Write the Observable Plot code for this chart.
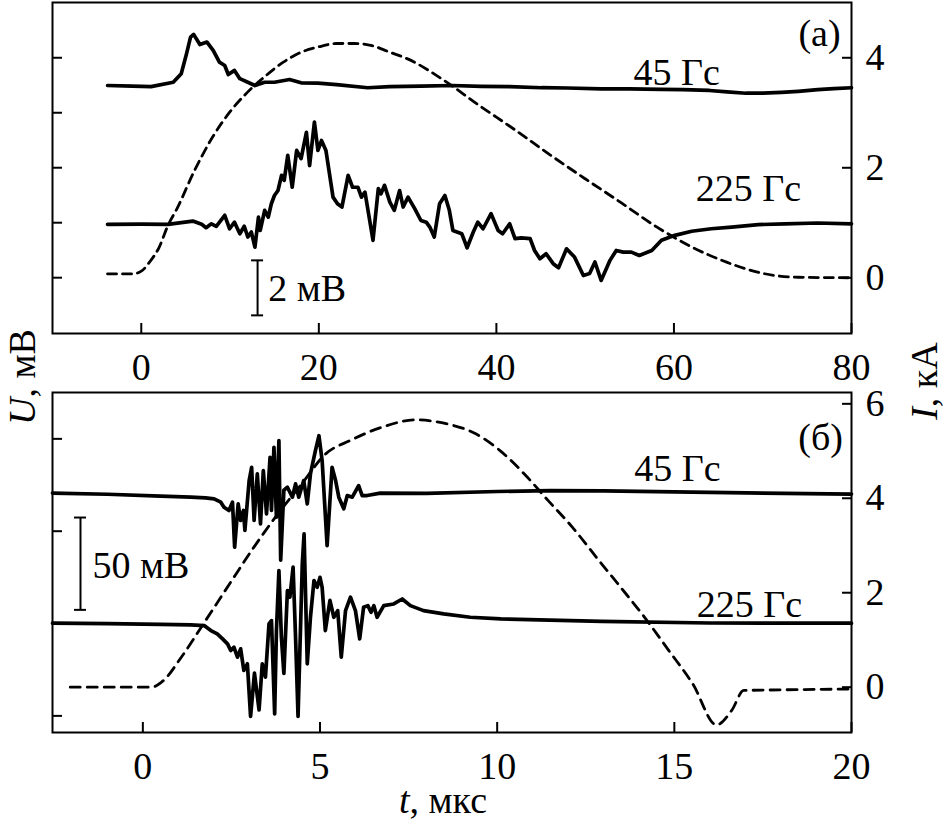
<!DOCTYPE html>
<html><head><meta charset="utf-8">
<script src="https://cdn.jsdelivr.net/npm/d3@7"></script>
<script src="https://cdn.jsdelivr.net/npm/@observablehq/plot@0.6"></script>
<style>
body{margin:0;background:#fff;}
#root{position:relative;width:945px;height:824px;background:#fff;font-family:"Liberation Serif","Times New Roman",serif;color:#000;overflow:hidden;}
#root svg{position:absolute;left:0;}
.lab{position:absolute;font-size:38px;white-space:nowrap;line-height:1;}
</style></head><body><div id="root"></div>
<script>
// ---------- panel (а): t in µs, U in mV (arbitrary offset), I in kA ----------
const xTicksA = [0, 20, 40, 60, 80];
const iTicksA = [0, 2, 4];
const uTicksA = [0, 2, 4, 6, 8];
const u45a = [[-3.8,6.99],[-1,6.97],[1.1,6.95],[3.6,7.11],[4.5,7.42],[5.1,8.15],[5.55,8.75],[5.9,8.85],[6.6,8.48],[7.4,8.57],[8.1,8.27],[8.8,7.84],[9.4,7.72],[9.8,7.39],[10.5,7.54],[11.1,7.24],[12.0,7.11],[12.8,6.99],[13.9,7.11],[15.0,7.11],[16.7,7.21],[18.0,7.09],[19.9,7.08],[22,7.02],[25.5,6.91],[28,6.95],[31.5,6.97],[35,6.99],[38.3,6.96],[41.5,6.95],[45.1,6.91],[48,6.9],[51.8,6.87],[55,6.87],[58.6,6.85],[61,6.84],[64.0,6.81],[66,6.76],[68.1,6.71],[70,6.71],[72.1,6.74],[74,6.78],[76.2,6.84],[78,6.88],[80,6.91]];
const u225a = [[-3.8,1.94],[0,1.95],[3.0,1.94],[5.8,2.06],[6.8,1.94],[7.3,1.82],[7.9,1.96],[8.45,1.87],[9.4,2.27],[9.95,1.78],[10.5,2.02],[11.1,1.6],[11.6,1.87],[12.0,1.48],[12.4,1.66],[12.8,1.11],[13.2,2.2],[13.4,1.72],[13.9,2.45],[14.3,2.2],[14.65,2.69],[15.0,2.99],[15.4,3.17],[15.8,3.72],[16.1,3.54],[16.5,4.45],[17.0,3.29],[17.5,4.63],[18.0,4.33],[18.6,5.29],[18.96,4.08],[19.5,5.66],[19.9,4.63],[20.3,4.99],[20.8,4.63],[21.6,2.93],[22.1,2.69],[22.6,2.57],[23.3,3.72],[23.8,3.29],[24.4,3.29],[24.8,2.93],[25.2,3.11],[26.1,1.36],[26.7,3.24],[27.0,3.05],[27.4,3.36],[28.0,2.75],[28.5,2.45],[29.1,3.17],[29.5,2.57],[30.05,2.93],[30.8,2.51],[31.5,2.08],[32.1,2.02],[32.5,1.84],[33.0,1.48],[33.6,2.69],[34.2,2.99],[34.7,2.45],[35.1,1.72],[36.1,1.6],[36.7,1.09],[37.4,1.66],[37.9,2.02],[38.5,1.78],[39.4,2.33],[40.2,1.72],[40.7,1.6],[41.5,1.96],[42.1,1.42],[42.8,1.45],[43.8,1.42],[44.3,0.99],[44.9,0.69],[45.6,0.87],[46.4,0.51],[47.0,0.36],[47.9,1.05],[48.8,0.75],[49.8,0.08],[50.5,0.15],[51.1,0.57],[51.8,-0.1],[52.8,0.63],[53.5,0.99],[54.3,0.93],[55.2,0.93],[56.1,0.81],[57.5,0.99],[58.6,1.36],[60.1,1.54],[62.0,1.69],[64.2,1.78],[66.5,1.84],[69.5,1.93],[72.5,1.96],[76.2,1.99],[80,1.96]];
const curA = [[-3.8,0.07],[-1,0.07],[0,0.12],[1,0.3],[2,0.55],[3,0.95],[4,1.25],[6,1.95],[8,2.55],[10,3.02],[12,3.38],[14,3.67],[16,3.92],[18,4.1],[20,4.2],[22,4.26],[24,4.26],[26,4.22],[28,4.1],[30,3.98],[34,3.6],[38,3.14],[42,2.7],[46,2.24],[50,1.8],[54,1.37],[58,0.93],[62,0.56],[66,0.28],[70,0.08],[74,0.01],[80,0.0]];
const textsA = [
  {t:76.4, u:8.88, s:"(а)", a:"middle"},
  {t:60.3, u:7.47, s:"45 Гс", a:"middle"},
  {t:68.4, u:3.25, s:"225 Гс", a:"middle"},
  {t:14.3, u:-0.39, s:"2 мВ", a:"start"}
];
const barA = {t:13.1, u0:-1.37, u1:0.63};

// ---------- panel (б) ----------
const xTicksB = [0, 5, 10, 15, 20];
const iTicksB = [0, 2, 4, 6];
const uTicksB = [0, 50, 100, 150];
const u45b = [[-2.55,120.6],[-1,120],[0.5,119],[1.35,118.4],[1.77,118],[2.01,117.5],[2.2,115.7],[2.29,113],[2.43,111.2],[2.53,115.7],[2.59,91.3],[2.69,114.8],[2.76,105.8],[2.84,111.2],[2.88,100.4],[3.0,127.4],[3.07,134.6],[3.14,105.8],[3.23,131],[3.32,104],[3.4,132.8],[3.49,109.4],[3.59,140],[3.63,111.2],[3.7,145.4],[3.77,107.6],[3.84,149],[3.89,84.3],[3.98,122.2],[4.08,123.8],[4.22,118.4],[4.31,125.6],[4.4,118.4],[4.54,127.4],[4.64,114.8],[4.73,131],[4.87,143.6],[4.97,151.7],[5.06,138.2],[5.2,92.2],[5.34,134.6],[5.44,127.4],[5.53,118.4],[5.67,112.1],[5.77,119.3],[5.91,118.4],[6.09,124.7],[6.19,119.3],[6.33,119.3],[6.7,120.6],[8,120.5],[10,121.5],[11.5,122],[13,121.8],[16,121],[20,120.1]];
const u225b = [[-2.55,50.2],[-1,50],[0.5,49.5],[1.35,49.3],[1.73,48.9],[1.92,46.2],[2.1,44.4],[2.25,41.7],[2.39,39],[2.48,35.4],[2.57,37.2],[2.67,31.8],[2.76,36.3],[2.85,24.6],[2.95,28.2],[3.04,-0.3],[3.15,23.1],[3.28,3.2],[3.37,28.2],[3.46,21],[3.56,49.8],[3.63,51.6],[3.72,1.1],[3.77,46.2],[3.84,78.7],[3.91,42.6],[3.98,23],[4.08,67.9],[4.15,64.3],[4.24,80.5],[4.31,42.6],[4.38,-0.3],[4.5,82.3],[4.55,98.6],[4.64,28.2],[4.73,53.4],[4.83,73.3],[4.92,69.6],[5.0,75],[5.06,69.6],[5.15,46.2],[5.28,62.5],[5.39,53.4],[5.5,57],[5.6,31.8],[5.72,57],[5.86,64.3],[6.0,57],[6.12,41.7],[6.23,58.8],[6.35,59.7],[6.44,56.1],[6.52,59.7],[6.61,53.4],[6.8,59.7],[7.08,60.6],[7.32,63.3],[7.55,59.7],[7.92,57],[8.49,55.2],[9.24,53.4],[10.1,52.5],[12.96,51.2],[16,50.3],[20,50.2]];
const curB = [[-2.05,0],[0.24,0],[0.58,0.14],[1.09,0.64],[1.77,1.41],[2.45,2.19],[3.13,2.96],[3.81,3.67],[4.48,4.3],[5.16,4.94],[5.84,5.22],[6.69,5.49],[7.71,5.66],[8.56,5.58],[9.41,5.36],[10.08,5.01],[10.76,4.52],[11.44,3.95],[12.12,3.39],[12.8,2.75],[13.48,2.12],[14.16,1.48],[14.84,0.78],[15.52,0.07],[16.19,-0.8],[16.62,-0.49],[16.96,-0.07],[17.7,-0.06],[20,-0.04]];
const textsB = [
  {t:19.13, u:150.7, s:"(б)", a:"middle"},
  {t:15.09, u:133.9, s:"45 Гс", a:"middle"},
  {t:17.12, u:60.3, s:"225 Гс", a:"middle"},
  {t:-1.42, u:81.4, s:"50 мВ", a:"start"}
];
const barB = {t:-1.76, u0:57.4, u1:107.4};

// ---------- layout ----------
const W = 945, ML = 52, MR = 94;
const root = document.getElementById("root");
const baseStyle = {fontFamily:'"Liberation Serif", "Times New Roman", serif', fontSize:"38px", background:"transparent", color:"black", overflow:"visible"};

function panel(o) {
  const common = {width:W, height:o.height, marginTop:o.mt, marginBottom:o.mb, marginLeft:ML, marginRight:MR, style:baseStyle};
  const pI = Plot.plot({...common,
    x:{domain:o.xDomain, axis:null},
    y:{domain:o.iDomain, axis:null},
    marks:[
      Plot.axisY({anchor:"right", ticks:o.iTicks, tickSize:-10, tickPadding:24, label:null, strokeWidth:2, tickFormat:d=>String(d)}),
      Plot.line(o.current, {x:d=>d[0], y:d=>d[1], stroke:"black", strokeWidth:2.8, strokeDasharray:o.dash, curve:"monotone-x"})
    ]});
  const pU = Plot.plot({...common,
    x:{domain:o.xDomain},
    y:{domain:o.uDomain},
    marks:[
      Plot.frame({stroke:"black", strokeWidth:2}),
      Plot.axisY({anchor:"left", ticks:o.uTicks, tickSize:-10, label:null, strokeWidth:2, tickFormat:()=>""}),
      Plot.axisX({anchor:"bottom", ticks:o.xTicks, tickSize:-10, tickPadding:30, label:null, strokeWidth:2, tickFormat:d=>String(d)}),
      ...o.series.map(s => Plot.line(s, {x:d=>d[0], y:d=>d[1], stroke:"black", strokeWidth:3.7, strokeLinejoin:"round"})),
      Plot.ruleX([o.bar], {x:"t", y1:"u0", y2:"u1", stroke:"black", strokeWidth:2}),
      Plot.ruleY([o.bar.u0, o.bar.u1], {y:d=>d, x1:o.bar.t, x2:o.bar.t, insetLeft:-6, insetRight:-6, stroke:"black", strokeWidth:2}),
      Plot.text(o.texts.filter(d=>d.a==="middle"), {x:"t", y:"u", text:"s", textAnchor:"middle", fill:"black", fontSize:38}),
      Plot.text(o.texts.filter(d=>d.a==="start"), {x:"t", y:"u", text:"s", textAnchor:"start", fill:"black", fontSize:38})
    ]});
  for (const p of [pI, pU]) { p.style.top = o.top + "px"; root.appendChild(p); }
}

panel({top:0, height:390, mt:2, mb:57, xDomain:[-10,80], xTicks:xTicksA,
  uDomain:[-2.03,10.01], uTicks:uTicksA, iDomain:[-1.013,5.005], iTicks:iTicksA,
  series:[u45a,u225a], current:curA, dash:"9,6", texts:textsA, bar:barA});
panel({top:382, height:442, mt:10, mb:92, xDomain:[-2.55,20], xTicks:xTicksB,
  uDomain:[-9.0,175.1], uTicks:uTicksB, iDomain:[-0.96,6.24], iTicks:iTicksB,
  series:[u45b,u225b], current:curB, dash:"10,7", texts:textsB, bar:barB});

function label(html, x, y, rot) {
  const d = document.createElement("div");
  d.className = "lab";
  d.innerHTML = html;
  d.style.left = x + "px"; d.style.top = y + "px";
  d.style.transform = "translate(-50%,-50%)" + (rot ? " rotate(-90deg)" : "");
  root.appendChild(d);
}
label("<i>U</i>, мВ", 22, 377, true);
label("<i>I</i>, кА", 924, 381, true);
label("<i>t</i>, мкс", 443, 800, false);
</script></body></html>
